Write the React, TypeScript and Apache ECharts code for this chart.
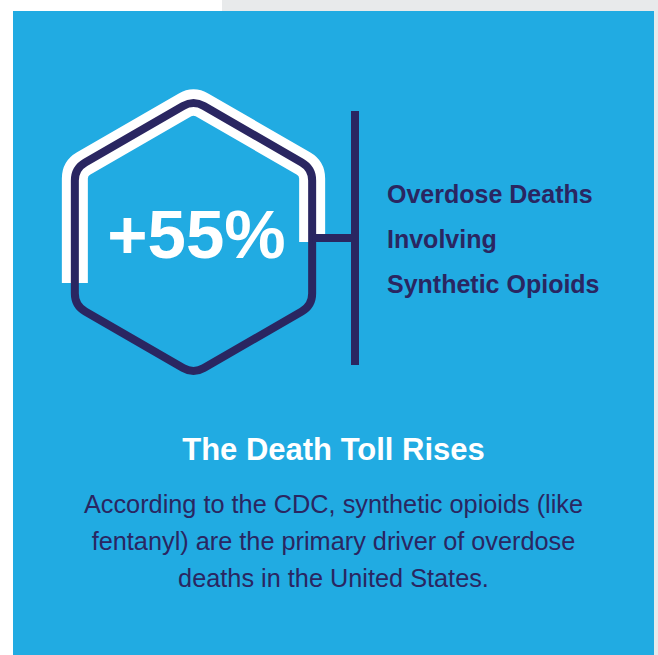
import React, { useEffect, useRef } from "react";
import * as echarts from "echarts";

const statValue = "+55%";
const statLabelLines = ["Overdose Deaths", "Involving", "Synthetic Opioids"];
const titleText = "The Death Toll Rises";
const bodyLines = [
  "According to the CDC, synthetic opioids (like",
  "fentanyl) are the primary driver of overdose",
  "deaths in the United States.",
];

const BLUE = "#21abe2";
const NAVY = "#2a2661";
const FONT = "'Liberation Sans', Arial, sans-serif";

function roundedPath(pts: number[][], r: number, closed: boolean): string {
  const n = pts.length;
  let d = "";
  const pointAt = (a: number[], b: number[], dist: number) => {
    const dx = b[0] - a[0];
    const dy = b[1] - a[1];
    const len = Math.hypot(dx, dy);
    return [a[0] + (dx / len) * dist, a[1] + (dy / len) * dist];
  };
  if (closed) {
    for (let i = 0; i < n; i++) {
      const prev = pts[(i - 1 + n) % n];
      const cur = pts[i];
      const next = pts[(i + 1) % n];
      const p1 = pointAt(cur, prev, r);
      const p2 = pointAt(cur, next, r);
      d += (i === 0 ? "M" : "L") + p1[0].toFixed(2) + " " + p1[1].toFixed(2);
      d += " Q" + cur[0].toFixed(2) + " " + cur[1].toFixed(2) + " " + p2[0].toFixed(2) + " " + p2[1].toFixed(2) + " ";
    }
    d += "Z";
  } else {
    d = "M" + pts[0][0].toFixed(2) + " " + pts[0][1].toFixed(2) + " ";
    for (let i = 1; i < n - 1; i++) {
      const prev = pts[i - 1];
      const cur = pts[i];
      const next = pts[i + 1];
      const p1 = pointAt(cur, prev, r);
      const p2 = pointAt(cur, next, r);
      d += "L" + p1[0].toFixed(2) + " " + p1[1].toFixed(2);
      d += " Q" + cur[0].toFixed(2) + " " + cur[1].toFixed(2) + " " + p2[0].toFixed(2) + " " + p2[1].toFixed(2) + " ";
    }
    d += "L" + pts[n - 1][0].toFixed(2) + " " + pts[n - 1][1].toFixed(2);
  }
  return d;
}

export default function App() {
  const ref = useRef<HTMLDivElement>(null);
  useEffect(() => {
    if (!ref.current) return;
    const cx = 193.5;
    const cy = 237;
    const R = 137;
    const hx = (R * Math.sqrt(3)) / 2;
    const hex: number[][] = [
      [cx, cy - R],
      [cx + hx, cy - R / 2],
      [cx + hx, cy + R / 2],
      [cx, cy + R],
      [cx - hx, cy + R / 2],
      [cx - hx, cy - R / 2],
    ];
    const whitePts: number[][] = [
      [cx - hx, 283],
      [cx - hx, cy - R / 2],
      [cx, cy - R],
      [cx + hx, cy - R / 2],
      [cx + hx, 242],
    ];
    echarts.graphic.registerShape("hexDark", echarts.graphic.extendPath(roundedPath(hex, 12, true), {}) as any);
    echarts.graphic.registerShape("hexWhite", echarts.graphic.extendPath(roundedPath(whitePts, 10, false), {}) as any);

    const chart = echarts.init(ref.current, null, { renderer: "svg" });
    const barX = 355;
    const elements: any[] = [
      { type: "rect", shape: { x: 222, y: 0, width: 436, height: 655 }, style: { fill: "#e8eaeb" } },
      { type: "rect", shape: { x: 13, y: 11, width: 641, height: 644 }, style: { fill: BLUE } },
      {
        type: "hexWhite",
        x: 0,
        y: 0,
        scaleX: 1,
        scaleY: 1,
        style: { stroke: "#ffffff", lineWidth: 26, lineJoin: "round", lineCap: "butt", fill: "none" },
      },
      {
        type: "hexDark",
        x: 0,
        y: 0,
        scaleX: 1,
        scaleY: 1,
        style: { stroke: NAVY, lineWidth: 8, lineJoin: "round", fill: "none" },
      },
      {
        type: "line",
        shape: { x1: cx + hx, y1: 238, x2: barX, y2: 238 },
        style: { stroke: NAVY, lineWidth: 8 },
      },
      {
        type: "line",
        shape: { x1: barX, y1: 111, x2: barX, y2: 365 },
        style: { stroke: NAVY, lineWidth: 8 },
      },
      {
        type: "text",
        x: 196.5,
        y: 234.5,
        style: {
          text: statValue,
          fill: "#ffffff",
          font: `bold 69px ${FONT}`,
          align: "center",
          verticalAlign: "middle",
        },
      },
    ];
    statLabelLines.forEach((t, i) => {
      elements.push({
        type: "text",
        x: 387,
        y: 194 + i * 45,
        style: { text: t, fill: NAVY, font: `bold 25px ${FONT}`, align: "left", verticalAlign: "middle" },
      });
    });
    elements.push({
      type: "text",
      x: 333.5,
      y: 449.5,
      style: { text: titleText, fill: "#ffffff", font: `bold 31px ${FONT}`, align: "center", verticalAlign: "middle" },
    });
    bodyLines.forEach((t, i) => {
      elements.push({
        type: "text",
        x: 333.5,
        y: 504 + i * 37,
        style: { text: t, fill: NAVY, font: `25.3px ${FONT}`, align: "center", verticalAlign: "middle" },
      });
    });
    chart.setOption({ animation: false, graphic: { elements } });
    return () => chart.dispose();
  }, []);
  return (
    <div
      ref={ref}
      style={{ position: "fixed", left: 0, top: 0, width: 658, height: 655, background: "#ffffff" }}
    />
  );
}
